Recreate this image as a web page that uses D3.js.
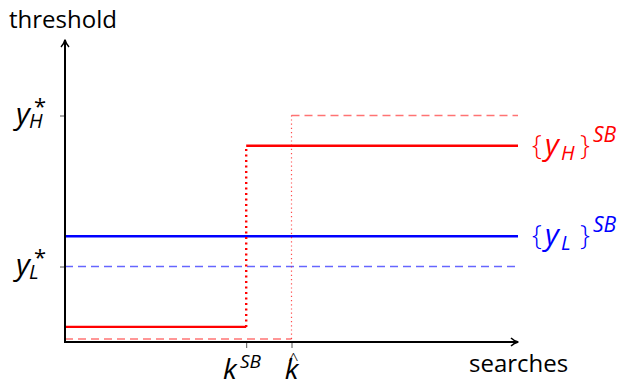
<!DOCTYPE html>
<html>
<head>
<meta charset="utf-8">
<script src="https://cdn.jsdelivr.net/npm/d3@7"></script>
<style>
  body { margin: 0; background: #fff; }
  text { font-family: "Open Sans", "DejaVu Sans", sans-serif; }
</style>
</head>
<body>
<div id="chart"></div>
<script>
// values in normalised units (0..1 on both axes)
const kSB = 0.4, kHat = 0.5;
const yHstar = 0.75, yLstar = 0.25;
const yHsb = [[0, 0.05], [kSB, 0.05], [kSB, 0.65], [1, 0.65]];
const yHfirst = [[0, 0.01], [kHat, 0.01], [kHat, 0.75], [1, 0.75]];
const yLsb = [[0, 0.35], [1, 0.35]];
const yLfirst = [[0, 0.25], [1, 0.25]];

const width = 624, height = 386;
const svg = d3.select('#chart').append('svg')
  .attr('width', width).attr('height', height);

const x = d3.scaleLinear().domain([0, 1]).range([65, 518]);
const y = d3.scaleLinear().domain([0, 1]).range([342, 40]);

const defs = svg.append('defs');
defs.append('marker').attr('id', 'arr')
  .attr('viewBox', '0 0 10 10').attr('refX', 9).attr('refY', 5)
  .attr('markerWidth', 10).attr('markerHeight', 10).attr('orient', 'auto')
  .attr('markerUnits', 'userSpaceOnUse')
  .append('path').attr('d', 'M2,1 Q5,4 9.3,5 Q5,6 2,9')
  .attr('fill', 'none').attr('stroke', '#000').attr('stroke-width', 1.5);

const line = d3.line().x(d => x(d[0])).y(d => y(d[1]));

// blue lines
svg.append('path').datum(yLfirst).attr('d', line)
  .attr('fill', 'none').attr('stroke', '#0000ff').attr('stroke-opacity', 0.6)
  .attr('stroke-width', 1.4).attr('stroke-dasharray', '8,5');
svg.append('path').datum(yLsb).attr('d', line)
  .attr('fill', 'none').attr('stroke', '#0000ff').attr('stroke-width', 2.4);

// red first-best: dashed horizontals, thin dotted vertical
svg.append('path').datum(yHfirst.slice(0, 2)).attr('d', line)
  .attr('fill', 'none').attr('stroke', '#ff0000').attr('stroke-opacity', 0.55)
  .attr('stroke-width', 1.6).attr('stroke-dasharray', '8,5');
svg.append('path').datum(yHfirst.slice(2)).attr('d', line)
  .attr('fill', 'none').attr('stroke', '#ff0000').attr('stroke-opacity', 0.55)
  .attr('stroke-width', 1.6).attr('stroke-dasharray', '8,5');
svg.append('path').datum(yHfirst.slice(1, 3)).attr('d', line)
  .attr('fill', 'none').attr('stroke', '#ff0000').attr('stroke-opacity', 0.7)
  .attr('stroke-width', 1.2).attr('stroke-dasharray', '1.2,3');

// red second-best: solid horizontals, thick dotted vertical
svg.append('path').datum(yHsb.slice(0, 2)).attr('d', line)
  .attr('fill', 'none').attr('stroke', '#ff0000').attr('stroke-width', 2.4);
svg.append('path').datum(yHsb.slice(2)).attr('d', line)
  .attr('fill', 'none').attr('stroke', '#ff0000').attr('stroke-width', 2.4);
svg.append('path').datum(yHsb.slice(1, 3)).attr('d', line)
  .attr('fill', 'none').attr('stroke', '#ff0000')
  .attr('stroke-width', 2.4).attr('stroke-dasharray', '2,3.5');

// axes
const gx = svg.append('g').attr('transform', `translate(0,${y(0)})`)
  .call(d3.axisBottom(x).tickValues([kSB, kHat]).tickSize(6).tickFormat(''));
const gy = svg.append('g').attr('transform', `translate(${x(0)},0)`)
  .call(d3.axisLeft(y).tickValues([yLstar, yHstar]).tickSize(5).tickFormat(''));
[gx, gy].forEach(g => {
  g.select('.domain').remove();
  g.selectAll('.tick line').attr('stroke', '#555').attr('stroke-width', 1);
});
svg.append('line').attr('x1', x(0) - 1).attr('x2', x(1)).attr('y1', y(0)).attr('y2', y(0))
  .attr('stroke', '#000').attr('stroke-width', 2).attr('marker-end', 'url(#arr)');
svg.append('line').attr('x1', x(0)).attr('x2', x(0)).attr('y1', y(0) + 1).attr('y2', y(1))
  .attr('stroke', '#000').attr('stroke-width', 2).attr('marker-end', 'url(#arr)');

// axis titles
svg.append('text').attr('x', 9).attr('y', 28).attr('font-size', 24).text('threshold');
svg.append('text').attr('x', 469).attr('y', 372).attr('font-size', 24).text('searches');

// math tick labels (y*)
function starLabel(ypos, sub) {
  const g = svg.append('g').attr('transform', `translate(16,${ypos + 8})`);
  g.append('text').attr('font-size', 30).attr('font-style', 'italic').text('y');
  g.append('text').attr('x', 13).attr('y', 4).attr('font-size', 20)
    .attr('font-style', 'italic').text(sub);
  g.append('text').attr('x', 18).attr('y', -10).attr('font-size', 22).text('*');
}
starLabel(y(yHstar), 'H');
starLabel(y(yLstar), 'L');

// x tick labels
const kg = svg.append('g').attr('transform', `translate(223,${y(0) + 37})`);
kg.append('text').attr('font-size', 28).attr('font-style', 'italic').text('k');
kg.append('text').attr('x', 17).attr('y', -11).attr('font-size', 19)
  .attr('font-style', 'italic').text('SB');
svg.append('text').attr('x', x(kHat)).attr('y', y(0) + 37).attr('text-anchor', 'middle')
  .attr('font-size', 28).attr('font-style', 'italic').text('k');
svg.append('text').attr('x', x(kHat) + 2).attr('y', y(0) + 24).attr('text-anchor', 'middle')
  .attr('font-size', 18).attr('font-weight', 300).text('^');

// series labels
function seriesLabel(ypos, sub, color) {
  const g = svg.append('g').attr('fill', color)
    .attr('transform', `translate(532,${ypos + 9})`);
  g.append('text').attr('font-size', 28).attr('font-weight', 300).text('{');
  g.append('text').attr('x', 13).attr('font-size', 30).attr('font-style', 'italic').text('y');
  g.append('text').attr('x', 29).attr('y', 5).attr('font-size', 20)
    .attr('font-style', 'italic').text(sub);
  g.append('text').attr('x', 48).attr('font-size', 28).attr('font-weight', 300).text('}');
  g.append('text').attr('x', 61).attr('y', -13).attr('font-size', 21)
    .attr('font-style', 'italic').text('SB');
}
seriesLabel(y(yHsb[3][1]), 'H', '#ff0000');
seriesLabel(y(yLsb[1][1]), 'L', '#0000ff');
</script>
</body>
</html>
